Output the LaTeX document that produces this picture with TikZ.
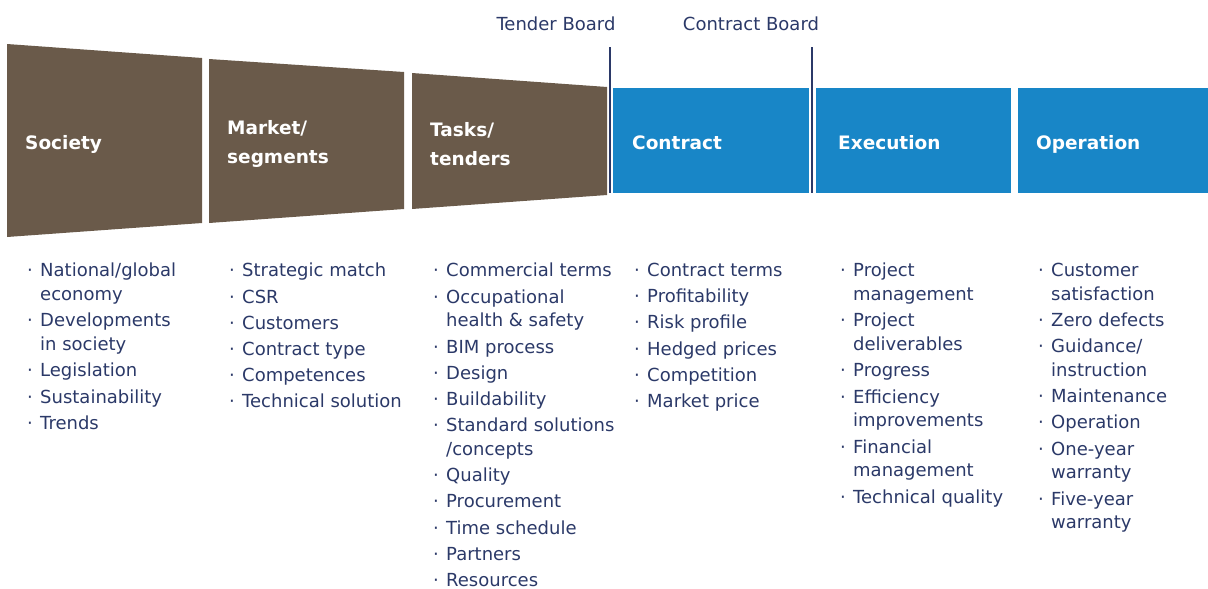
\documentclass[tikz,border=0pt]{standalone}
\usepackage{fontspec}
\setmainfont{DejaVu Sans}
\usetikzlibrary{positioning}

\definecolor{funnelbrown}{RGB}{106,90,74}
\definecolor{phaseblue}{RGB}{24,134,199}
\definecolor{textnavy}{RGB}{43,57,104}

% bullet and hanging indent for the lists
\newcommand{\bitem}{\makebox[13pt][l]{\textperiodcentered}}
\newcommand{\bwrap}{\hspace*{13pt}}
\newcommand{\igap}{2.4pt}

\begin{document}
\begin{tikzpicture}[x=1pt, y=-1pt,
    phase/.style={font=\fontsize{18.5}{29}\selectfont\bfseries, text=white, align=left, inner sep=0pt, anchor=west},
    lst/.style={font=\fontsize{18}{23.8}\selectfont, text=textnavy, align=left, inner sep=0pt, anchor=north west},
    board/.style={font=\fontsize{18}{22}\selectfont, text=textnavy, inner sep=0pt, anchor=base},
    gate/.style={draw=textnavy, line width=2pt},
]
    \useasboundingbox (0,0) rectangle (1208,589);

    % funnel
    \fill[funnelbrown] (7,44) -- (202,58) -- (202,223) -- (7,237) -- cycle;
    \fill[funnelbrown] (209,59) -- (404,72) -- (404,209) -- (209,223) -- cycle;
    \fill[funnelbrown] (412,73) -- (607,87) -- (607,195) -- (412,209) -- cycle;

    % phases
    \fill[phaseblue] (613,88) rectangle (809,193);
    \fill[phaseblue] (816,88) rectangle (1011,193);
    \fill[phaseblue] (1018,88) rectangle (1208,193);

    % boards
    \draw[gate] (610,47) -- (610,193);
    \draw[gate] (812,47) -- (812,193);
    \node[board] (tenderboard) at (556,30) {Tender Board};
    \node[board] (contractboard) at (751,30) {Contract Board};

    \node[phase] (society) at (25,144) {Society};
    \node[phase] (market) at (227,144) {Market/\\segments};
    \node[phase] (tasks) at (430,144) {Tasks/\\tenders};
    \node[phase] (contract) at (632,143) {Contract};
    \node[phase] (execution) at (838,143) {Execution};
    \node[phase] (operation) at (1036,144) {Operation};

    % lists
    \node[lst] (societylist) at (27,263) {\bitem National/global\\\bwrap economy\\[\igap]\bitem Developments\\\bwrap in society\\[\igap]\bitem Legislation\\[\igap]\bitem Sustainability\\[\igap]\bitem Trends};
    \node[lst] (marketlist) at (229,263) {\bitem Strategic match\\[\igap]\bitem CSR\\[\igap]\bitem Customers\\[\igap]\bitem Contract type\\[\igap]\bitem Competences\\[\igap]\bitem Technical solution};
    \node[lst] (taskslist) at (433,263) {\bitem Commercial terms\\[\igap]\bitem Occupational\\\bwrap health \& safety\\[\igap]\bitem BIM process\\[\igap]\bitem Design\\[\igap]\bitem Buildability\\[\igap]\bitem Standard solutions\\\bwrap /concepts\\[\igap]\bitem Quality\\[\igap]\bitem Procurement\\[\igap]\bitem Time schedule\\[\igap]\bitem Partners\\[\igap]\bitem Resources};
    \node[lst] (contractlist) at (634,263) {\bitem Contract terms\\[\igap]\bitem Profitability\\[\igap]\bitem Risk profile\\[\igap]\bitem Hedged prices\\[\igap]\bitem Competition\\[\igap]\bitem Market price};
    \node[lst] (executionlist) at (840,263) {\bitem Project\\\bwrap management\\[\igap]\bitem Project\\\bwrap deliverables\\[\igap]\bitem Progress\\[\igap]\bitem Efficiency\\\bwrap improvements\\[\igap]\bitem Financial\\\bwrap management\\[\igap]\bitem Technical quality};
    \node[lst] (operationlist) at (1038,263) {\bitem Customer\\\bwrap satisfaction\\[\igap]\bitem Zero defects\\[\igap]\bitem Guidance/\\\bwrap instruction\\[\igap]\bitem Maintenance\\[\igap]\bitem Operation\\[\igap]\bitem One-year\\\bwrap warranty\\[\igap]\bitem Five-year\\\bwrap warranty};
\end{tikzpicture}
\end{document}
